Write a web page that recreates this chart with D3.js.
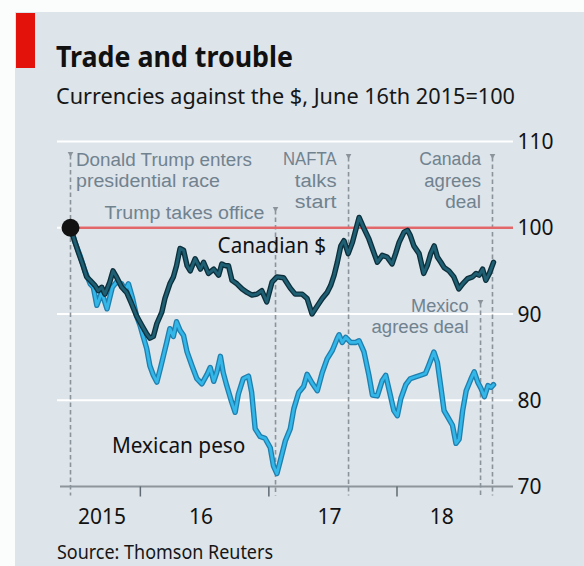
<!DOCTYPE html>
<html>
<head>
<meta charset="utf-8">
<script src="https://cdn.jsdelivr.net/npm/d3@7"></script>
<style>
  html, body { margin: 0; padding: 0; background: #fbfcfc; }
  svg { display: block; }
</style>
</head>
<body>
<svg id="chart" width="584" height="566"></svg>
<script>
// ---- Text ----
const titleText = "Trade and trouble";
const subtitleText = "Currencies against the $, June 16th 2015=100";
const sourceText = "Source: Thomson Reuters";

// ---- Axes ----
const yTicks = [70, 80, 90, 100, 110];
const yearLabels = ["2015", "16", "17", "18"];
const yearStarts = ["2016-01-01", "2017-01-01", "2018-01-01"];
const baseValue = 100;

// ---- Events marked on the chart ----
const eventDates = ["2015-06-16", "2017-01-20", "2017-08-16", "2018-08-27", "2018-09-30"];
const eventLabels = [
  ["Donald Trump enters", "presidential race"],
  ["Trump takes office"],
  ["NAFTA", "talks", "start"],
  ["Mexico", "agrees deal"],
  ["Canada", "agrees", "deal"]
];

// ---- Series: index against the US dollar, June 16th 2015 = 100 ----
const cadSeries = [
  ["2015-06-16",100],["2015-06-29",98.3],["2015-07-08",97.2],["2015-07-22",95.6],
  ["2015-08-01",94.3],["2015-08-11",93.9],["2015-08-25",93.3],["2015-09-03",92.7],
  ["2015-09-13",93.1],["2015-09-22",92.3],["2015-10-06",93.7],["2015-10-15",95.0],
  ["2015-10-25",94.3],["2015-11-09",93.1],["2015-11-23",92.5],["2015-12-07",91.2],
  ["2015-12-21",89.8],["2016-01-05",88.7],["2016-01-19",87.7],["2016-01-28",87.2],
  ["2016-02-07",87.4],["2016-02-17",88.9],["2016-03-02",90.2],["2016-03-11",91.8],
  ["2016-03-25",93.5],["2016-04-04",94.3],["2016-04-13",95.6],["2016-04-23",97.6],
  ["2016-05-03",97.4],["2016-05-13",95.6],["2016-05-22",95.0],["2016-06-05",96.4],
  ["2016-06-20",95.2],["2016-06-29",96.0],["2016-07-13",94.7],["2016-07-28",95.2],
  ["2016-08-11",94.5],["2016-08-20",95.8],["2016-08-30",95.6],["2016-09-08",95.6],
  ["2016-09-18",93.9],["2016-10-02",93.5],["2016-10-17",92.9],["2016-10-31",92.5],
  ["2016-11-14",92.2],["2016-11-28",92.3],["2016-12-12",92.7],["2016-12-26",91.4],
  ["2017-01-10",93.7],["2017-01-24",94.3],["2017-02-12",94.2],["2017-03-03",93.0],
  ["2017-03-17",92.3],["2017-04-06",92.3],["2017-04-20",91.8],["2017-05-04",90.0],
  ["2017-05-20",91.0],["2017-06-02",91.8],["2017-06-16",92.5],["2017-06-26",93.3],
  ["2017-07-06",94.5],["2017-07-15",96.0],["2017-07-25",97.9],["2017-08-03",98.5],
  ["2017-08-15",97.0],["2017-08-27",98.3],["2017-09-15",101.2],["2017-09-29",99.9],
  ["2017-10-13",98.7],["2017-10-28",97.0],["2017-11-06",96.0],["2017-11-20",96.8],
  ["2017-12-04",96.6],["2017-12-18",95.8],["2017-12-28",97.0],["2018-01-07",98.3],
  ["2018-01-21",99.5],["2018-01-31",99.7],["2018-02-08",99.1],["2018-02-18",97.9],
  ["2018-03-05",97.0],["2018-03-18",94.7],["2018-03-28",95.6],["2018-04-07",97.0],
  ["2018-04-17",97.9],["2018-04-26",96.6],["2018-05-06",96.0],["2018-05-15",95.4],
  ["2018-05-29",95.0],["2018-06-12",94.3],["2018-06-26",92.9],["2018-07-07",93.5],
  ["2018-07-21",94.1],["2018-08-04",94.3],["2018-08-14",94.7],["2018-08-23",94.5],
  ["2018-09-02",95.2],["2018-09-11",93.9],["2018-09-21",94.7],["2018-10-03",96.0]
];

const mxnSeries = [
  ["2015-06-16",100],["2015-06-29",98.3],["2015-07-13",96.8],["2015-07-27",95.0],
  ["2015-08-11",93.5],["2015-08-20",93.1],["2015-08-30",91.0],["2015-09-13",92.5],
  ["2015-09-28",90.6],["2015-10-13",93.1],["2015-10-25",93.7],["2015-11-09",93.5],
  ["2015-11-18",92.7],["2015-11-28",93.5],["2015-12-10",91.8],["2015-12-21",89.8],
  ["2015-12-31",88.7],["2016-01-09",87.4],["2016-01-19",86.0],["2016-01-28",84.0],
  ["2016-02-07",82.9],["2016-02-17",82.1],["2016-02-27",83.7],["2016-03-07",85.2],
  ["2016-03-16",86.7],["2016-03-25",88.3],["2016-04-04",87.4],["2016-04-13",89.1],
  ["2016-04-23",88.1],["2016-05-03",87.5],["2016-05-13",85.6],["2016-05-27",84.0],
  ["2016-06-10",82.5],["2016-06-24",81.9],["2016-07-09",83.0],["2016-07-18",83.8],
  ["2016-07-28",82.2],["2016-08-06",83.3],["2016-08-16",85.1],["2016-08-24",83.2],
  ["2016-09-03",81.7],["2016-09-17",79.8],["2016-09-27",78.6],["2016-10-06",80.7],
  ["2016-10-20",82.5],["2016-11-04",82.8],["2016-11-13",80.9],["2016-11-23",76.7],
  ["2016-12-07",75.8],["2016-12-21",75.6],["2017-01-05",74.5],["2017-01-14",72.4],
  ["2017-01-24",71.5],["2017-02-02",72.9],["2017-02-17",75.3],["2017-03-03",76.7],
  ["2017-03-13",79.0],["2017-03-27",80.9],["2017-04-10",81.6],["2017-04-20",83.0],
  ["2017-05-04",82.0],["2017-05-19",81.1],["2017-06-02",83.2],["2017-06-16",84.8],
  ["2017-07-01",85.8],["2017-07-15",87.2],["2017-07-20",87.6],["2017-07-29",86.7],
  ["2017-08-08",87.3],["2017-08-22",86.7],["2017-09-05",86.7],["2017-09-15",86.9],
  ["2017-09-29",85.6],["2017-10-13",82.9],["2017-10-23",80.6],["2017-11-06",80.5],
  ["2017-11-20",82.3],["2017-11-30",82.9],["2017-12-09",81.3],["2017-12-23",78.8],
  ["2018-01-02",78.2],["2018-01-12",80.2],["2018-01-26",81.8],["2018-02-08",82.5],
  ["2018-02-22",82.7],["2018-03-09",82.9],["2018-03-23",83.1],["2018-04-01",84.0],
  ["2018-04-16",85.6],["2018-04-26",84.4],["2018-05-06",81.5],["2018-05-15",78.8],
  ["2018-05-25",78.1],["2018-06-08",77.1],["2018-06-18",75.0],["2018-06-27",75.5],
  ["2018-07-07",78.8],["2018-07-17",81.1],["2018-07-31",82.5],["2018-08-09",83.3],
  ["2018-08-19",82.1],["2018-08-28",81.4],["2018-09-07",80.4],["2018-09-17",81.7],
  ["2018-09-26",81.5],["2018-10-03",81.8]
];

// Where each series name is written (date, index level)
const seriesNames = ["Canadian $", "Mexican peso"];
const seriesNameAt = [["2016-08-08", 97.1], ["2015-10-12", 73.9]];

// ---------------------------------------------------------------
const parse = d3.timeParse("%Y-%m-%d");
const cad = cadSeries.map(([d, v]) => ({ date: parse(d), value: v }));
const mxn = mxnSeries.map(([d, v]) => ({ date: parse(d), value: v }));
const startDate = cad[0].date;
const endDate = cad[cad.length - 1].date;

const font = "'Noto Sans', 'Open Sans', sans-serif";
const noteFont = "'Liberation Sans', Arial, sans-serif";
const svg = d3.select("#chart");

// Panel background and red tag
svg.append("rect").attr("x", 15).attr("y", 12).attr("width", 569).attr("height", 554).attr("fill", "#dde4ea");
svg.append("rect").attr("x", 16).attr("y", 13).attr("width", 19).attr("height", 55).attr("fill", "#e3120b");

function fit(sel, w) {
  return sel.attr("textLength", w).attr("lengthAdjust", "spacingAndGlyphs");
}

fit(svg.append("text").attr("x", 56).attr("y", 66.5)
  .attr("font-family", font).attr("font-weight", 700).attr("font-size", 28)
  .attr("fill", "#111").text(titleText), 237);
fit(svg.append("text").attr("x", 56).attr("y", 103.5)
  .attr("font-family", font).attr("font-size", 22.5)
  .attr("fill", "#161616").text(subtitleText), 459);
fit(svg.append("text").attr("x", 57).attr("y", 558.5)
  .attr("font-family", font).attr("font-size", 20.5)
  .attr("fill", "#161616").text(sourceText), 216);

// Scales
const x = d3.scaleTime()
  .domain([startDate, parse("2018-10-10")])
  .range([70.5, 496]);
const y = d3.scaleLinear().domain([70, 110]).range([486.5, 141.5]);

const gridLeft = 57, gridRight = 513;

// Horizontal gridlines
svg.append("g").selectAll("line")
  .data(yTicks.filter(t => t !== 70))
  .join("line")
  .attr("x1", gridLeft).attr("x2", gridRight)
  .attr("y1", d => y(d)).attr("y2", d => y(d))
  .attr("stroke", "#ffffff").attr("stroke-width", 2.2);

// Y tick labels on the right
svg.append("g").selectAll("text")
  .data(yTicks)
  .join("text")
  .attr("x", gridRight + 4.5).attr("y", d => y(d)).attr("dy", "0.36em")
  .attr("font-family", font).attr("font-size", 21).attr("fill", "#111")
  .text(d => d);

// X axis line and year ticks
svg.append("line")
  .attr("x1", 60).attr("x2", gridRight)
  .attr("y1", y(70)).attr("y2", y(70))
  .attr("stroke", "#8d969c").attr("stroke-width", 2);

const yearDates = yearStarts.map(parse);
svg.append("g").selectAll("line")
  .data(yearDates)
  .join("line")
  .attr("x1", d => x(d)).attr("x2", d => x(d))
  .attr("y1", y(70)).attr("y2", y(70) + 10)
  .attr("stroke", "#5f6a72").attr("stroke-width", 1.5);

const bounds = [startDate, ...yearDates, endDate];
svg.append("g").selectAll("text")
  .data(yearLabels)
  .join("text")
  .attr("x", (d, i) => (x(bounds[i]) + x(bounds[i + 1])) / 2 - 3.5)
  .attr("y", 523.5)
  .attr("text-anchor", "middle")
  .attr("font-family", font).attr("font-size", 21).attr("fill", "#111")
  .text(d => d);

// Event markers: dashed verticals with a small arrowhead on top
const eventTops = [155, 210, 157, 303, 157];
const eventAnchor = ["start", "end", "end", "end", "end"];
const eventDx = [5.5, -11, -12, -12, -11.5];
const eventFirstBaseline = [166, 218.5, 165, 311.5, 165];
const eventLineGap = [21.2, 0, 21.7, 21.7, 21.7];
const eventWidths = [[176, 144], [160], [53.5, 41.7, 41.7], [57.5, 97], [61.7, 56.7, 35.7]];
const evColor = "#71828f";

const ev = svg.append("g");
eventDates.forEach((ds, i) => {
  const ex = x(parse(ds));
  ev.append("line")
    .attr("x1", ex).attr("x2", ex)
    .attr("y1", eventTops[i]).attr("y2", y(70) + 9)
    .attr("stroke", "#8b949a").attr("stroke-width", 1.6)
    .attr("stroke-dasharray", "4.5,3");
  ev.append("path")
    .attr("d", `M${ex - 2.8},${eventTops[i] - 3}L${ex + 2.8},${eventTops[i] - 3}L${ex},${eventTops[i] + 2}Z`)
    .attr("fill", "#8b949a");
  eventLabels[i].forEach((t, j) => {
    fit(ev.append("text")
      .attr("x", ex + eventDx[i])
      .attr("y", eventFirstBaseline[i] + j * eventLineGap[i])
      .attr("text-anchor", eventAnchor[i])
      .attr("font-family", noteFont).attr("font-size", 18)
      .attr("fill", evColor)
      .text(t), eventWidths[i][j]);
  });
});

// Base-level line at 100
svg.append("line")
  .attr("x1", x(startDate)).attr("x2", gridRight)
  .attr("y1", y(baseValue)).attr("y2", y(baseValue))
  .attr("stroke", "#e2676a").attr("stroke-width", 2.6);

// Series lines: darker edge under a lighter core
const line = d3.line().x(d => x(d.date)).y(d => y(d.value)).curve(d3.curveLinear);

function drawSeries(data, edge, core) {
  svg.append("path").datum(data).attr("d", line)
    .attr("fill", "none").attr("stroke", edge).attr("stroke-width", 5.4)
    .attr("stroke-linejoin", "round").attr("stroke-linecap", "round");
  svg.append("path").datum(data).attr("d", line)
    .attr("fill", "none").attr("stroke", core).attr("stroke-width", 2.8)
    .attr("stroke-linejoin", "round").attr("stroke-linecap", "round");
}
drawSeries(mxn, "#1f7fae", "#33b6e8");
drawSeries(cad, "#0c2f3b", "#1f5f73");

// Starting dot
svg.append("circle")
  .attr("cx", x(startDate)).attr("cy", y(baseValue)).attr("r", 9)
  .attr("fill", "#121212");

// Series names
const nameWidths = [108.5, 133.5];
seriesNames.forEach((n, i) => {
  fit(svg.append("text")
    .attr("x", x(parse(seriesNameAt[i][0])))
    .attr("y", y(seriesNameAt[i][1]))
    .attr("font-family", font).attr("font-size", 21)
    .attr("fill", "#111").text(n), nameWidths[i]);
});
</script>
</body>
</html>
